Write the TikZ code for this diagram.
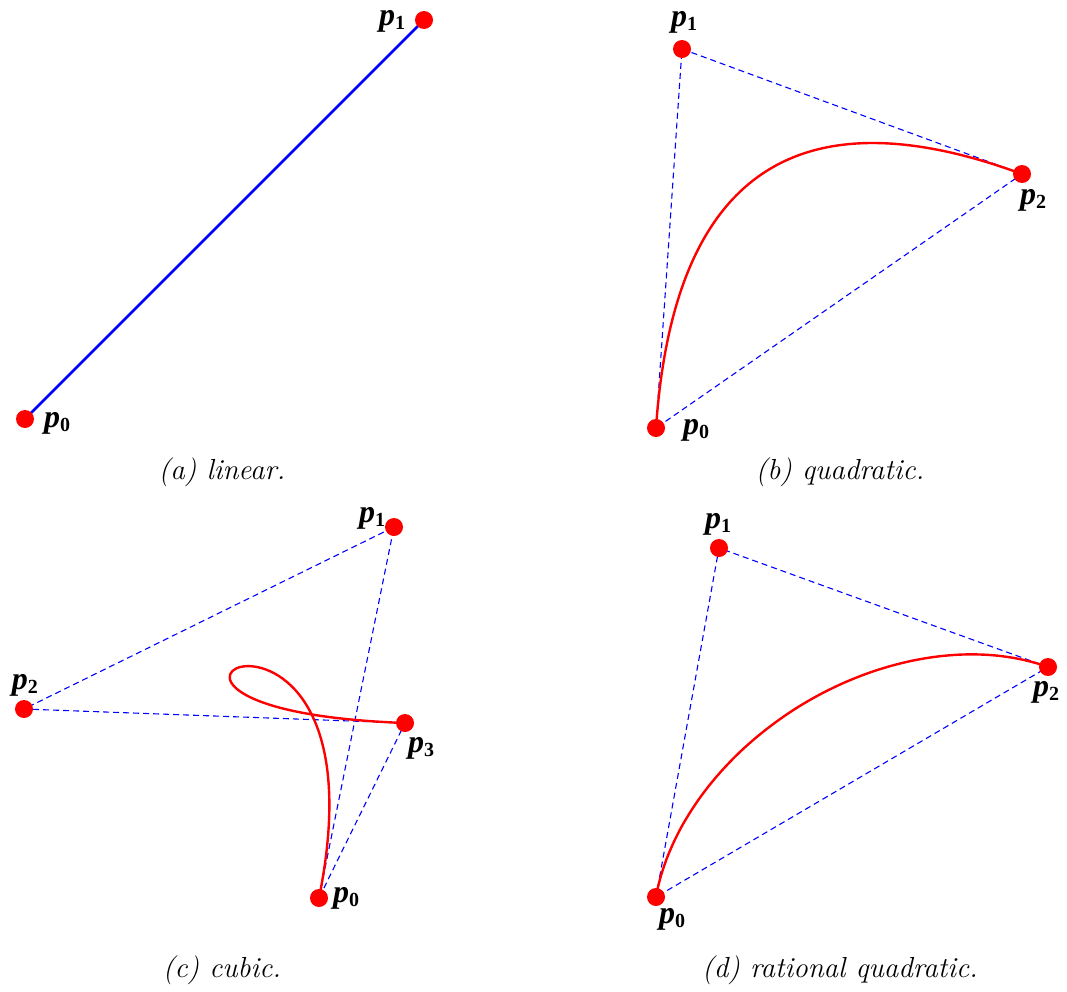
\documentclass[tikz,border=0pt]{standalone}
\usepackage{fontspec}
\usetikzlibrary{calc}
\newfontfamily\tmsbi{Liberation Serif Bold Italic}
\newfontfamily\tmsb{Liberation Serif Bold}
\newcommand{\plab}[1]{{\tmsbi\fontsize{32}{34}\selectfont p}\raisebox{-4.5pt}{\tmsb\fontsize{20}{22}\selectfont #1}}
\begin{document}
\begin{tikzpicture}[x=1pt,y=-1pt,
  ctrl/.style={draw=blue,dashed,dash pattern=on 6pt off 4pt,line width=1.1pt},
  curve/.style={draw=red,line width=2.4pt},
  reddot/.style={circle,fill=red,inner sep=0pt,minimum size=18pt},
  lab/.style={inner sep=0pt},
  captext/.style={inner sep=0pt,font=\fontsize{29}{32}\selectfont\itshape}]
\useasboundingbox (0,0) rectangle (1067,991);
% (a)
\coordinate (a0) at (25,419);
\coordinate (a1) at (424,20);
\draw[blue,line width=2.6pt] (a0) -- (a1);
\node[reddot] (A0) at (a0) {};
\node[reddot] (A1) at (a1) {};
\node[lab] (LA0) at (57,423) {\plab{0}};
\node[lab] (LA1) at (392,21) {\plab{1}};
\node[captext] (CA) at (222,472) {(a) linear.};
% (b)
\coordinate (b0) at (656,428);
\coordinate (b1) at (682,49);
\coordinate (b2) at (1022,174);
\draw[ctrl] (b0) -- (b1) -- (b2) -- (b0);
\draw[curve] (b0) .. controls ($(b0)!2/3!(b1)$) and ($(b2)!2/3!(b1)$) .. (b2);
\node[reddot] (B0) at (b0) {};
\node[reddot] (B1) at (b1) {};
\node[reddot] (B2) at (b2) {};
\node[lab] (LB0) at (696,430) {\plab{0}};
\node[lab] (LB1) at (684,22) {\plab{1}};
\node[lab] (LB2) at (1033,200) {\plab{2}};
\node[captext] (CB) at (840,472) {(b) quadratic.};
% (c)
\coordinate (c0) at (319,898);
\coordinate (c1) at (394,527);
\coordinate (c2) at (24,709);
\coordinate (c3) at (405,723);
\draw[ctrl] (c0) -- (c1) -- (c2) -- (c3) -- (c0);
\draw[curve] (c0) .. controls (c1) and (c2) .. (c3);
\node[reddot] (C0) at (c0) {};
\node[reddot] (C1) at (c1) {};
\node[reddot] (C2) at (c2) {};
\node[reddot] (C3) at (c3) {};
\node[lab] (LC0) at (346,898) {\plab{0}};
\node[lab] (LC1) at (372,518) {\plab{1}};
\node[lab] (LC2) at (25,685) {\plab{2}};
\node[lab] (LC3) at (421,748) {\plab{3}};
\node[captext] (CC) at (222,970) {(c) cubic.};
% (d)
\coordinate (d0) at (656,897);
\coordinate (d1) at (719,548);
\coordinate (d2) at (1048,667);
\draw[ctrl] (d0) -- (d1) -- (d2) -- (d0);
\draw[curve] plot[domain=0:1,samples=80,smooth,variable=\t]
  ({((1-\t)^2*656 + 2*\t*(1-\t)*0.52*719 + \t^2*1048)/((1-\t)^2 + 2*\t*(1-\t)*0.52 + \t^2)},
   {((1-\t)^2*897 + 2*\t*(1-\t)*0.52*548 + \t^2*667)/((1-\t)^2 + 2*\t*(1-\t)*0.52 + \t^2)});
\node[reddot] (D0) at (d0) {};
\node[reddot] (D1) at (d1) {};
\node[reddot] (D2) at (d2) {};
\node[lab] (LD0) at (672,919) {\plab{0}};
\node[lab] (LD1) at (718,524) {\plab{1}};
\node[lab] (LD2) at (1046,692) {\plab{2}};
\node[captext] (CD) at (840,970) {(d) rational quadratic.};
\end{tikzpicture}
\end{document}
